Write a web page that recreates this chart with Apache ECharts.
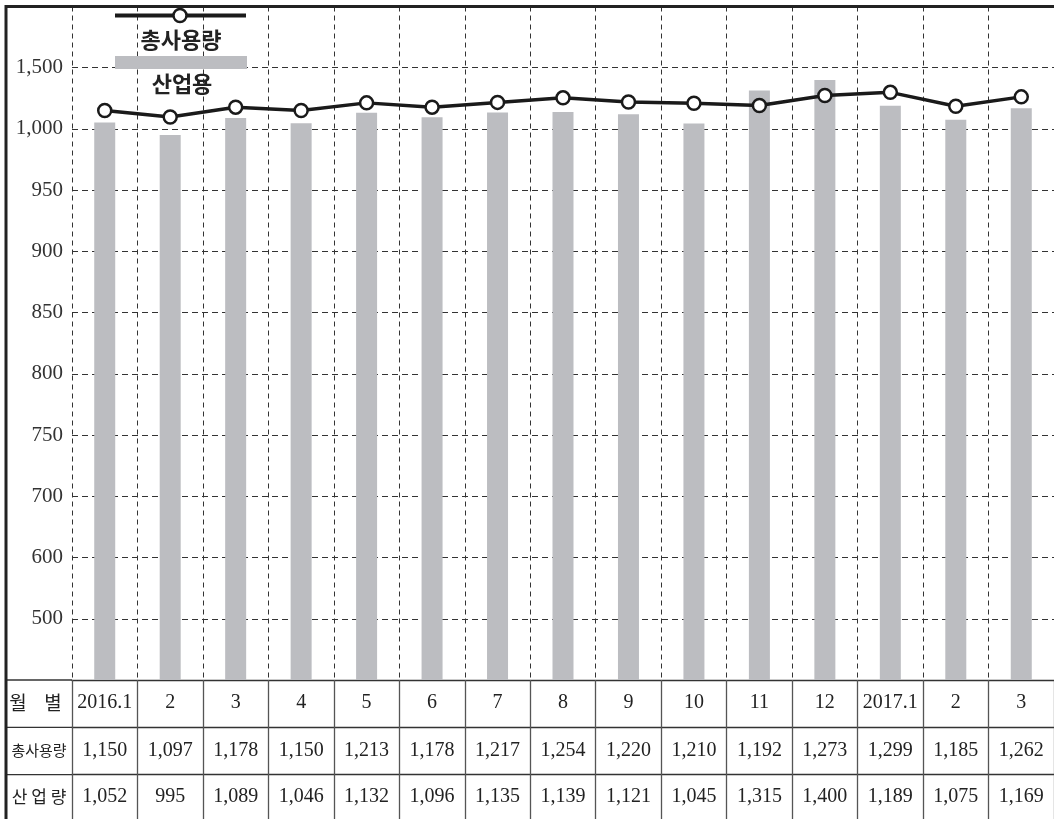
<!DOCTYPE html>
<html>
<head>
<meta charset="utf-8">
<script src="https://cdn.jsdelivr.net/npm/echarts@6/dist/echarts.min.js"></script>
<style>
html,body{margin:0;padding:0;background:#fff;}
#chart{width:1054px;height:819px;}
</style>
</head>
<body>
<div id="chart"></div>
<script>
// ---- data ----
const months = ['2016.1','2','3','4','5','6','7','8','9','10','11','12','2017.1','2','3'];
const totalUse = [1150,1097,1178,1150,1213,1178,1217,1254,1220,1210,1192,1273,1299,1185,1262];
const industrialUse = [1052,995,1089,1046,1132,1096,1135,1139,1121,1045,1315,1400,1189,1075,1169];
const yTickValues = [500,600,700,750,800,850,900,950,1000,1500];
const seriesNames = ['총사용량','산업용'];
const rowHeaders = ['월','별','총사용량','산 업 량'];

// broken (piecewise) value axis: each tick value occupies one equal step.
// step 0 = axis bottom (400), step 1 = 500, ..., step 10 = 1,500, step 11 = top
const bp = [400].concat(yTickValues, [2000]);
function toStep(v){
  for (let i = 0; i < bp.length - 1; i++) {
    if (v <= bp[i+1] || i === bp.length - 2) {
      return i + (v - bp[i]) / (bp[i+1] - bp[i]);
    }
  }
}
const fmt = v => v.toLocaleString('en-US');

const SERIF = '"Liberation Serif", "DejaVu Serif", serif';
const KR = '"Noto Sans CJK KR", sans-serif';
const GRID_L = 72, GRID_T = 6.5, GRID_B_Y = 680, ROW = 47.3;

const chart = echarts.init(document.getElementById('chart'), null, {renderer:'canvas'});

const tableAxis = (labels, offset, showTick, margin) => ({
  type: 'category',
  gridIndex: 0,
  position: 'bottom',
  offset: offset,
  data: labels,
  boundaryGap: true,
  axisLine: {show: true, onZero: false, lineStyle: {color: '#333', width: 1.3}},
  axisTick: {show: showTick, interval: 0, length: 139, alignWithLabel: false,
             lineStyle: {color: '#555', width: 1.3}},
  axisLabel: {show: true, interval: 0, margin: margin, verticalAlign: 'middle',
              fontFamily: SERIF, fontSize: 20, color: '#222'},
  splitLine: {show: false}
});

const x0 = tableAxis(months, 0, true, 23);
x0.splitLine = {show: true, interval: 0, lineStyle: {color: '#333', width: 1, type: [5, 4]}};
const x1 = tableAxis(totalUse.map(fmt), ROW, false, 23);
const x2 = tableAxis(industrialUse.map(fmt), ROW * 2, false, 22);

const option = {
  animation: false,
  backgroundColor: '#fff',
  grid: {left: GRID_L, top: GRID_T, width: 984, bottom: 819 - GRID_B_Y, containLabel: false},
  xAxis: [x0, x1, x2],
  yAxis: {
    type: 'value',
    min: 0, max: 11, interval: 1,
    axisLine: {show: false},
    axisTick: {show: false},
    axisLabel: {
      margin: 9,
      fontFamily: SERIF, fontSize: 21, color: '#333',
      formatter: function (val) {
        const i = Math.round(val) - 1;
        return (i >= 0 && i < yTickValues.length) ? fmt(yTickValues[i]) : '';
      }
    },
    splitLine: {show: true, lineStyle: {color: '#333', width: 1, type: [6, 4]}}
  },
  series: [
    {
      name: seriesNames[1],
      type: 'bar',
      xAxisIndex: 0,
      data: industrialUse.map(toStep),
      barWidth: 21,
      itemStyle: {color: '#bcbdc1'},
      z: 2
    },
    {
      name: seriesNames[0],
      type: 'line',
      xAxisIndex: 0,
      data: totalUse.map(toStep),
      symbol: 'circle',
      symbolSize: 13,
      lineStyle: {color: '#1a1a1a', width: 3.5},
      itemStyle: {color: '#ffffff', borderColor: '#1a1a1a', borderWidth: 2.5},
      z: 3
    }
  ],
  graphic: [
    // frame borders
    {type: 'line', shape: {x1: 5, y1: GRID_T, x2: 1054, y2: GRID_T}, style: {stroke: '#222', lineWidth: 3}, z: 10},
    {type: 'line', shape: {x1: 6, y1: 5, x2: 6, y2: 819}, style: {stroke: '#222', lineWidth: 3}, z: 10},
    // first-column row lines
    {type: 'line', shape: {x1: 6, y1: GRID_B_Y, x2: GRID_L, y2: GRID_B_Y}, style: {stroke: '#333', lineWidth: 1.3}},
    {type: 'line', shape: {x1: 6, y1: GRID_B_Y + ROW, x2: GRID_L, y2: GRID_B_Y + ROW}, style: {stroke: '#333', lineWidth: 1.3}},
    {type: 'line', shape: {x1: 6, y1: GRID_B_Y + ROW * 2, x2: GRID_L, y2: GRID_B_Y + ROW * 2}, style: {stroke: '#333', lineWidth: 1.3}},
    // row headers
    {type: 'text', x: 18, y: 703, style: {text: rowHeaders[0], font: '19px ' + KR, fill: '#222', align: 'center', verticalAlign: 'middle'}},
    {type: 'text', x: 53, y: 703, style: {text: rowHeaders[1], font: '19px ' + KR, fill: '#222', align: 'center', verticalAlign: 'middle'}},
    {type: 'text', x: 39, y: 750, style: {text: rowHeaders[2], font: '15px ' + KR, fill: '#222', align: 'center', verticalAlign: 'middle'}},
    {type: 'text', x: 39, y: 797, style: {text: rowHeaders[3], font: '17px ' + KR, fill: '#222', align: 'center', verticalAlign: 'middle'}},
    // custom legend
    {type: 'line', shape: {x1: 115, y1: 15.5, x2: 246, y2: 15.5}, style: {stroke: '#1a1a1a', lineWidth: 4}, z: 20},
    {type: 'circle', shape: {cx: 180, cy: 15.5, r: 6.5}, style: {fill: '#fff', stroke: '#1a1a1a', lineWidth: 2.5}, z: 21},
    {type: 'text', x: 181, y: 40, style: {text: seriesNames[0], font: 'bold 22px ' + KR, fill: '#222', align: 'center', verticalAlign: 'middle'}, z: 20},
    {type: 'rect', shape: {x: 115, y: 56, width: 132, height: 13}, style: {fill: '#bcbdc1'}, z: 20},
    {type: 'text', x: 182, y: 84, style: {text: seriesNames[1], font: 'bold 22px ' + KR, fill: '#222', align: 'center', verticalAlign: 'middle'}, z: 20}
  ]
};
chart.setOption(option);
</script>
</body>
</html>
